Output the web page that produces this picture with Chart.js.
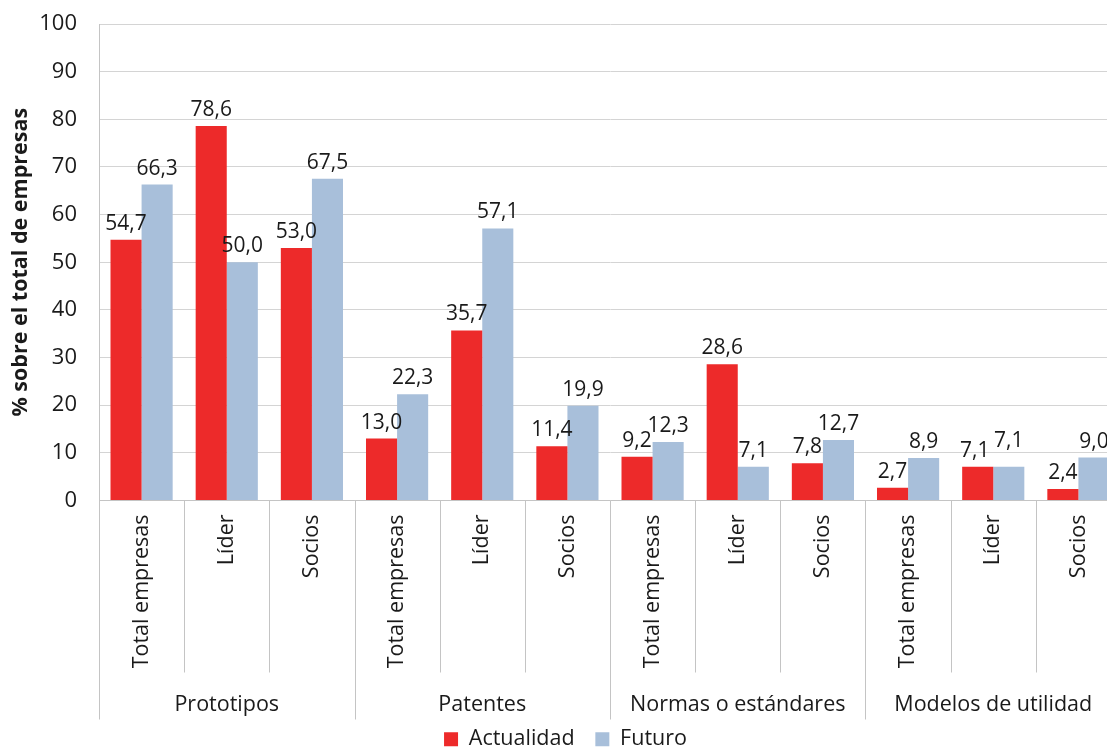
<!DOCTYPE html>
<html>
<head>
<meta charset="utf-8">
<script src="https://cdn.jsdelivr.net/npm/chart.js@4.4.0/dist/chart.umd.min.js"></script>
<style>
  html, body { margin: 0; padding: 0; background: #fff; overflow: hidden; }
  #wrap { width: 1107px; height: 748px; overflow: hidden; }
  #box { width: 1125px; height: 760px; }
</style>
</head>
<body>
<div id="wrap"><div id="box"><canvas id="myChart"></canvas></div></div>
<script>
const grupos = ['Prototipos', 'Patentes', 'Normas o estándares', 'Modelos de utilidad']
const categorias = [
  'Total empresas', 'Líder', 'Socios',
  'Total empresas', 'Líder', 'Socios',
  'Total empresas', 'Líder', 'Socios',
  'Total empresas', 'Líder', 'Socios'
]
const actualidad = [54.7, 78.6, 53.0, 13.0, 35.7, 11.4, 9.2, 28.6, 7.8, 2.7, 7.1, 2.4]
const futuro = [66.3, 50.0, 67.5, 22.3, 57.1, 19.9, 12.3, 7.1, 12.7, 8.9, 7.1, 9.0]
const yTicks = [0, 10, 20, 30, 40, 50, 60, 70, 80, 90, 100]

const fuente = '"Open Sans", sans-serif'
const texto = '#1a1a1a'
const lineaGris = '#c4c4c4'

// numeros encima de cada barra
const etiquetas = {
  id: 'etiquetas',
  afterDatasetsDraw(chart) {
    const ctx = chart.ctx
    ctx.save()
    ctx.font = '21px ' + fuente
    ctx.fillStyle = texto
    ctx.textAlign = 'center'
    ctx.textBaseline = 'alphabetic'
    const rojas = chart.getDatasetMeta(0).data
    chart.data.datasets.forEach((ds, i) => {
      chart.getDatasetMeta(i).data.forEach((bar, j) => {
        let dx = 0, dy = 0
        // cuando las dos etiquetas quedan a la misma altura se separan un poco
        if (Math.abs(rojas[j].y - bar.y) < 1 && ds.data[j] === chart.data.datasets[1 - i].data[j]) {
          if (i === 0) dx = -3
          else dy = -10
        }
        ctx.fillText(ds.data[j].toFixed(1).replace('.', ','), bar.x + dx, bar.y - 10 + dy)
      })
    })
    ctx.restore()
  }
}

// lineas entre categorias y nombres de grupo
const separadores = {
  id: 'separadores',
  afterDraw(chart) {
    const x = chart.scales.x
    const area = chart.chartArea
    const ctx = chart.ctx
    const paso = x.getPixelForValue(1) - x.getPixelForValue(0)
    ctx.save()
    ctx.strokeStyle = lineaGris
    ctx.lineWidth = 1
    for (let i = 0; i <= categorias.length; i++) {
      const px = Math.round(x.getPixelForValue(i) - paso / 2) + 0.5
      const largo = i % 3 === 0 ? 219 : 172
      ctx.beginPath()
      ctx.moveTo(px, area.bottom)
      ctx.lineTo(px, area.bottom + largo)
      ctx.stroke()
    }
    ctx.font = '21.5px ' + fuente
    ctx.fillStyle = texto
    ctx.textAlign = 'center'
    ctx.textBaseline = 'alphabetic'
    grupos.forEach((g, k) => {
      const cx = (x.getPixelForValue(k * 3) + x.getPixelForValue(k * 3 + 2)) / 2
      ctx.fillText(g, cx, area.bottom + 210)
    })
    ctx.restore()
  }
}

const ctx = document.getElementById('myChart').getContext('2d')
const myChart = new Chart(ctx, {
  type: 'bar',
  data: {
    labels: categorias,
    datasets: [
      { label: 'Actualidad', data: actualidad, backgroundColor: '#ED2A2A', categoryPercentage: 0.73, barPercentage: 1.0 },
      { label: 'Futuro', data: futuro, backgroundColor: '#A8BFDA', categoryPercentage: 0.73, barPercentage: 1.0 }
    ]
  },
  options: {
    responsive: true,
    maintainAspectRatio: false,
    animation: false,
    layout: { padding: { top: 24, right: 4, left: 10, bottom: 0 } },
    plugins: {
      tooltip: { enabled: false },
      legend: {
        position: 'bottom',
        labels: {
          font: { family: fuente, size: 21.5 },
          color: texto,
          boxWidth: 14,
          boxHeight: 14,
          padding: 4,
          generateLabels(chart) {
            const items = Chart.defaults.plugins.legend.labels.generateLabels(chart)
            items[0].text = items[0].text + '   '
            return items
          }
        }
      }
    },
    scales: {
      x: {
        grid: { display: false, drawTicks: false },
        border: { display: true, color: lineaGris },
        ticks: {
          font: { family: fuente, size: 21.5 },
          color: texto,
          minRotation: 90,
          maxRotation: 90,
          padding: 14,
          autoSkip: false
        },
        afterFit(s) { s.height = 224 }
      },
      y: {
        min: 0,
        max: 100,
        afterBuildTicks(s) { s.ticks = yTicks.map(v => ({ value: v })) },
        grid: { color: '#d4d4d4', drawTicks: false },
        border: { display: true, color: lineaGris },
        ticks: {
          font: { family: fuente, size: 22 },
          color: texto,
          padding: 22
        },
        title: {
          display: true,
          text: '% sobre el total de empresas',
          font: { family: fuente, size: 21.5, weight: 'bold', lineHeight: 1 },
          color: texto,
          padding: { top: 0, bottom: 0 }
        },
        afterFit(s) {
          s.width = 89
          s.paddingTop = 0
        }
      }
    }
  },
  plugins: [etiquetas, separadores]
})
</script>
</body>
</html>
